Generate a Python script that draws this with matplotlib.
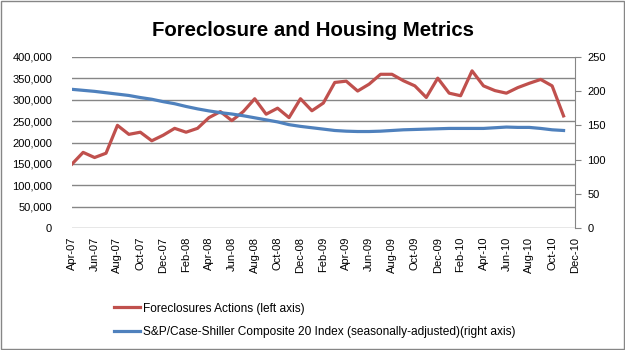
import numpy as np
import matplotlib.pyplot as plt
from matplotlib.patches import Rectangle
from matplotlib.ticker import FuncFormatter

plt.rcParams['font.family'] = ['Liberation Sans', 'DejaVu Sans']

# Monthly categories Apr-07 .. Dec-10 (Dec-10 has no value)
months = ['Apr-07', 'May-07', 'Jun-07', 'Jul-07', 'Aug-07', 'Sep-07', 'Oct-07', 'Nov-07', 'Dec-07',
          'Jan-08', 'Feb-08', 'Mar-08', 'Apr-08', 'May-08', 'Jun-08', 'Jul-08', 'Aug-08', 'Sep-08',
          'Oct-08', 'Nov-08', 'Dec-08', 'Jan-09', 'Feb-09', 'Mar-09', 'Apr-09', 'May-09', 'Jun-09',
          'Jul-09', 'Aug-09', 'Sep-09', 'Oct-09', 'Nov-09', 'Dec-09', 'Jan-10', 'Feb-10', 'Mar-10',
          'Apr-10', 'May-10', 'Jun-10', 'Jul-10', 'Aug-10', 'Sep-10', 'Oct-10', 'Nov-10', 'Dec-10']

# Foreclosure actions (left axis)
foreclosures = [149000, 177000, 165000, 175000, 240000, 219000, 224000, 204000, 217000,
                233000, 224000, 233000, 258000, 272000, 251000, 272000, 302000, 266000,
                280000, 258000, 302000, 274000, 292000, 340000, 343000, 320000, 336000,
                359000, 359000, 344000, 332000, 305000, 350000, 315000, 309000, 367000,
                332000, 321000, 315000, 328000, 338000, 347000, 332000, 262000]

# S&P/Case-Shiller Composite 20, SA (right axis)
case_shiller = [202.5, 201.0, 199.5, 197.5, 195.5, 193.5, 190.5, 188.0, 184.5,
                181.5, 177.5, 174.0, 171.0, 168.5, 166.5, 164.0, 161.0, 158.0,
                155.0, 151.0, 148.5, 146.5, 144.5, 142.5, 141.5, 141.0, 141.0,
                141.5, 142.5, 143.5, 144.0, 144.5, 145.0, 145.5, 145.5, 145.5,
                145.5, 146.5, 147.5, 147.0, 147.0, 145.5, 143.5, 142.5]

red = '#C0504D'
blue = '#4F81BD'
grid_col = '#868686'

fig = plt.figure(figsize=(6.25, 3.5), dpi=100)
ax = fig.add_axes([0.1147, 0.3477, 0.8053, 0.4903])
ax2 = ax.twinx()

x = np.arange(len(foreclosures))
ax.plot(x, foreclosures, color=red, lw=2.3, label='Foreclosures Actions (left axis)')
ax2.plot(x, case_shiller, color=blue, lw=2.3,
         label='S&P/Case-Shiller Composite 20 Index (seasonally-adjusted)(right axis)')

ax.set_xlim(0, len(months) - 1)
ax.set_ylim(0, 400000)
ax.set_yticks(np.arange(0, 400001, 50000))
ax.yaxis.set_major_formatter(FuncFormatter(lambda v, p: f'{int(v):,}'))
ax2.set_ylim(0, 250)
ax2.set_yticks(np.arange(0, 251, 50))

ax.set_xticks(np.arange(0, len(months), 2))
ax.set_xticklabels(months[::2], rotation=90)

ax.grid(axis='y', color=grid_col, lw=1)
ax.set_axisbelow(True)
for s in ['left', 'top', 'right', 'bottom']:
    ax.spines[s].set_visible(False)
for s in ['left', 'top', 'bottom']:
    ax2.spines[s].set_visible(False)
ax2.spines['right'].set_color(grid_col)

ax.tick_params(axis='y', length=0, labelsize=8, pad=14)
ax.tick_params(axis='x', length=0, labelsize=8, pad=6)
ax2.tick_params(axis='y', length=4, color=grid_col, labelsize=8, pad=5)

fig.suptitle('Foreclosure and Housing Metrics', fontsize=14.7, fontweight='bold', y=0.94)

h1, l1 = ax.get_legend_handles_labels()
h2, l2 = ax2.get_legend_handles_labels()
fig.legend(h1 + h2, l1 + l2, loc='upper left', bbox_to_anchor=(0.165, 0.166),
           frameon=False, fontsize=8.6, handlelength=2.2, labelspacing=0.95, handletextpad=0.2)

fig.add_artist(Rectangle((0.001, 0.002), 0.997, 0.995, transform=fig.transFigure,
                         fill=False, edgecolor=grid_col, lw=1))

plt.savefig('out.png', dpi=100)
